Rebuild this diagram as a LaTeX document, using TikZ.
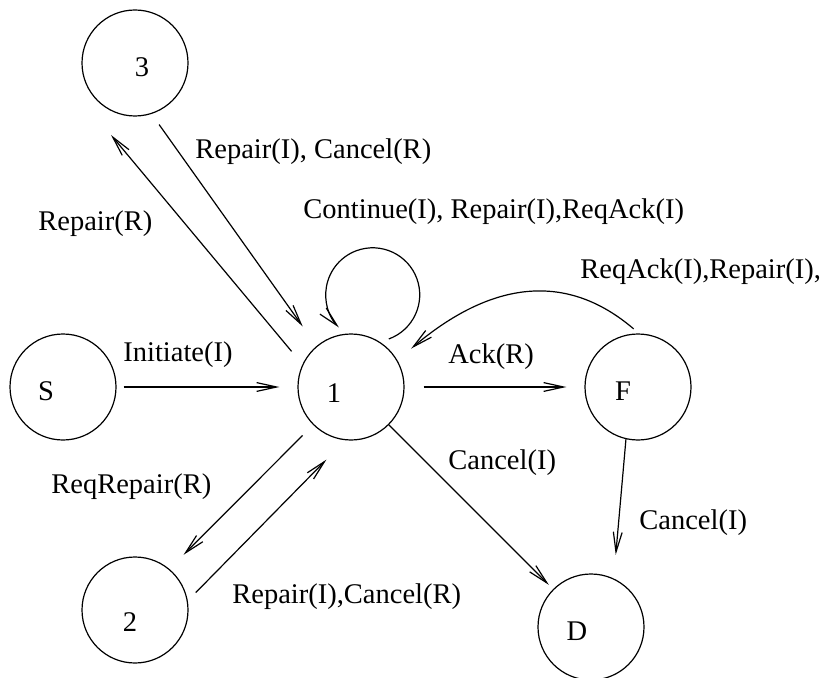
\documentclass[tikz,border=0pt]{standalone}
\usepackage{fontspec}
\setmainfont{Liberation Serif}
\usetikzlibrary{arrows.meta}
\begin{document}
\begin{tikzpicture}[x=0.5pt,y=-0.5pt,
  every node/.style={font=\fontsize{14.25}{17}\selectfont},
  state/.style={circle,draw,line width=0.6pt,minimum size=53pt,inner sep=0pt},
  lbl/.style={anchor=west,inner sep=0pt},
  arr/.style={line width=0.6pt,-{Straight Barb[length=10pt,width=4.4pt,line width=0.6pt]}}]
\useasboundingbox (0,0) rectangle (823,678);

% states
\node[state] (n3) at (135,63) {};
\node[state] (nS) at (63,387) {};
\node[state] (n1) at (351,387) {};
\node[state] (nF) at (638,387) {};
\node[state] (n2) at (135,610) {};
\node[state] (nD) at (591,627) {};

% state names
\node (t3) at (142,67) {3};
\node (tS) at (46,391) {S};
\node (t1) at (334,393) {1};
\node (tF) at (623,391) {F};
\node (t2) at (130,622) {2};
\node (tD) at (577,631) {D};

% free end of the arrow towards state 3
\coordinate (e3) at ([shift={(-24,72)}]n3.center);

% transitions
\draw[arr,shorten <=8.45pt] (n1.155.5) -- (e3);
\draw[arr,shorten <=6.5pt,shorten >=11.95pt] (n3.288.1) -- (n1.130.2);
\draw[arr,shorten <=3.5pt,shorten >=9pt] (nS.0) -- (n1.180);
\draw[arr,shorten <=9.5pt,shorten >=9pt] (n1.0) -- (nF.180);
\draw[arr,shorten <=7.45pt,shorten >=10pt] (n1.225) -- (n2.50.4);
\draw[arr,shorten <=5.65pt,shorten >=13.55pt] (n2.10.9) -- (n1.264.7);
\draw[arr,shorten >=3pt] (n1) -- (nD);
\draw[arr,shorten >=11.85pt] (nF.257.6) -- (nD.65.9);
\draw[arr,shorten <=3.5pt,shorten >=9pt] (nF.89) .. controls +(-72.2,-61.7) and +(94.3,-79.8) .. (n1.30.5);
\draw[arr] (n1.52.4) ++(4.8,-5.8) arc[start angle=70,end angle=-224,radius=47];

% transition labels
\node[lbl] (l31) at (195,152) {Repair(I), Cancel(R)};
\node[lbl] (l13) at (38,224) {Repair(R)};
\node[lbl] (l11) at (303,212) {Continue(I), Repair(I),ReqAck(I)};
\node[lbl] (lF1) at (580,272) {ReqAck(I),Repair(I),};
\node[lbl] (lS1) at (123,355) {Initiate(I)};
\node[lbl] (l1F) at (448,357) {Ack(R)};
\node[lbl] (l1D) at (448,463) {Cancel(I)};
\node[lbl] (lFD) at (639,523) {Cancel(I)};
\node[lbl] (l12) at (51,487) {ReqRepair(R)};
\node[lbl] (l21) at (232,597) {Repair(I),Cancel(R)};
\end{tikzpicture}
\end{document}
